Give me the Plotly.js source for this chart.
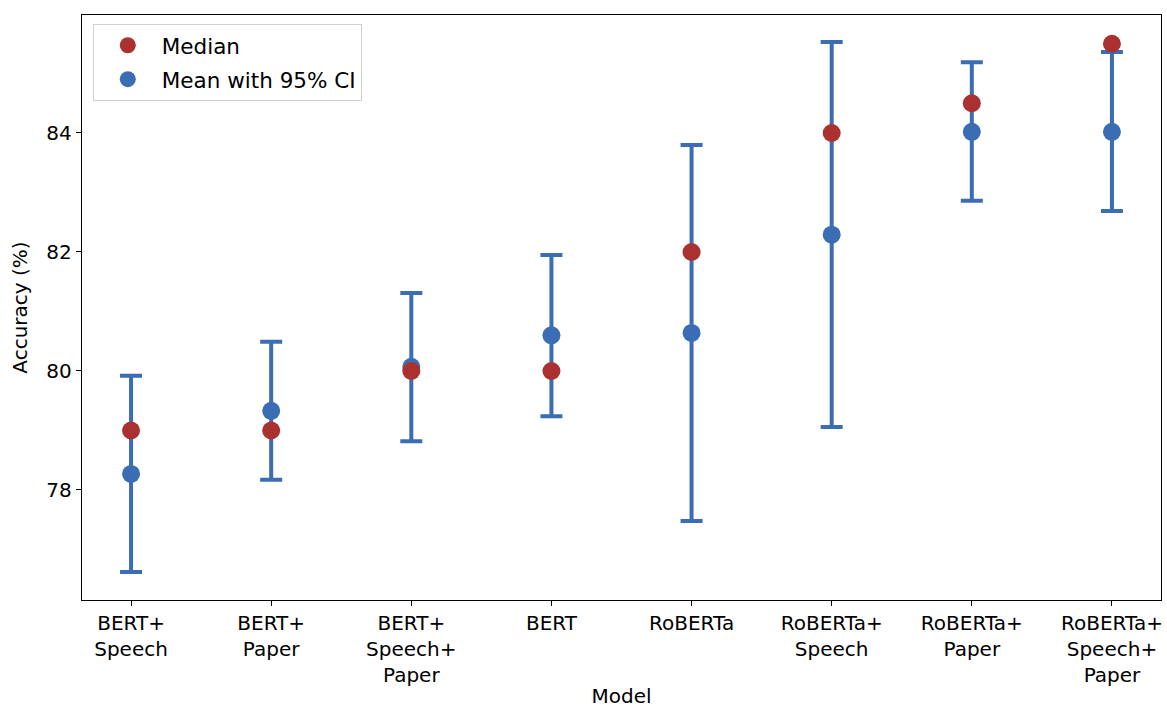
<!DOCTYPE html>
<html>
<head>
<meta charset="utf-8">
<script src="https://cdn.plot.ly/plotly-3.0.1.min.js"></script>
<style>html,body{margin:0;padding:0;background:#fff;}#chart{width:1167px;height:708px;}</style>
</head>
<body>
<div id="chart"></div>
<script>
const categories = ["BERT+<br>Speech", "BERT+<br>Paper", "BERT+<br>Speech+<br>Paper", "BERT", "RoBERTa", "RoBERTa+<br>Speech", "RoBERTa+<br>Paper", "RoBERTa+<br>Speech+<br>Paper"];
const meanValues = [78.27, 79.33, 80.07, 80.60, 80.64, 82.29, 84.02, 84.02];
const ciUpper = [79.92, 80.49, 81.31, 81.95, 83.80, 85.53, 85.19, 85.36];
const ciLower = [76.62, 78.17, 78.82, 79.24, 77.48, 79.06, 82.86, 82.69];
const medianValues = [79, 79, 80, 80, 82, 84, 84.5, 85.5];

const blue = "#3a6db4";
const red = "#ab3131";
const xIdx = categories.map((_, i) => i);

const meanTrace = {
  x: xIdx, y: meanValues, type: "scatter", mode: "markers",
  name: "Mean with 95% CI", legendgroup: "b", legendrank: 2,
  marker: {color: blue, size: 18},
  error_y: {
    type: "data", symmetric: false,
    array: meanValues.map((m, i) => ciUpper[i] - m),
    arrayminus: meanValues.map((m, i) => m - ciLower[i]),
    color: blue, thickness: 4, width: 11
  }
};
const medianTrace = {
  x: xIdx, y: medianValues, type: "scatter", mode: "markers",
  name: "Median", legendgroup: "a", legendrank: 1,
  marker: {color: red, size: 18}
};

const FONT = "DejaVu Sans";
const layout = {
  width: 1167, height: 708,
  margin: {l: 82, r: 6, t: 15, b: 108},
  paper_bgcolor: "#fff", plot_bgcolor: "#fff",
  font: {family: FONT, size: 20, color: "#000"},
  showlegend: true,
  legend: {
    x: 0.01, y: 0.985, xanchor: "left", yanchor: "top",
    bgcolor: "rgba(255,255,255,0.8)", bordercolor: "#d0d0d0", borderwidth: 1,
    font: {family: FONT, size: 21.5}, traceorder: "grouped",
    tracegroupgap: 3, itemwidth: 58
  },
  xaxis: {
    range: [-0.35, 7.35],
    tickmode: "array", tickvals: xIdx, ticktext: categories,
    ticks: "outside", ticklen: 5, tickwidth: 1, tickcolor: "#000",
    showgrid: false, zeroline: false,
    showline: true, linecolor: "#000", linewidth: 1.2, mirror: true,
    tickfont: {family: FONT, size: 20},
    title: {text: "Model", font: {family: FONT, size: 20}, standoff: 9}
  },
  yaxis: {
    range: [76.151, 85.983],
    tickvals: [78, 80, 82, 84],
    ticks: "outside", ticklen: 5, tickwidth: 1, tickcolor: "#000",
    showgrid: false, zeroline: false,
    showline: true, linecolor: "#000", linewidth: 1.2, mirror: true,
    tickfont: {family: FONT, size: 20},
    title: {text: "Accuracy (%)", font: {family: FONT, size: 20}, standoff: 13}
  }
};

Plotly.newPlot("chart", [meanTrace, medianTrace], layout, {displayModeBar: false, staticPlot: true});
</script>
</body>
</html>
